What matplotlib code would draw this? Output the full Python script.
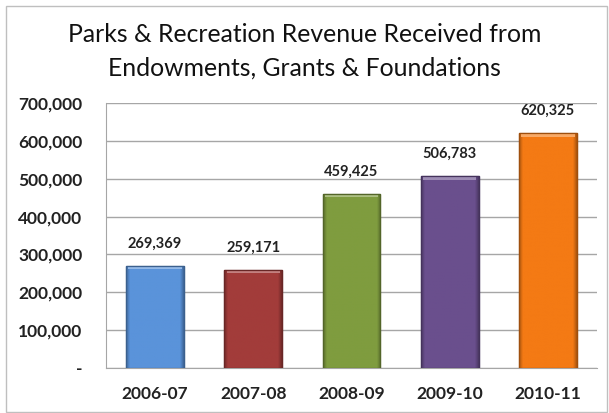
import numpy as np
import matplotlib as mpl
import matplotlib.pyplot as plt
from matplotlib.patches import Rectangle
from matplotlib.colors import to_rgb

years = ['2006-07', '2007-08', '2008-09', '2009-10', '2010-11']
revenue = [269369, 259171, 459425, 506783, 620325]
colors = ['#5A93DA', '#A23C3A', '#7F9C3F', '#6A4F8D', '#F47A14']
yticks = [0, 100000, 200000, 300000, 400000, 500000, 600000, 700000]

mpl.rcParams['font.family'] = ['Lato', 'DejaVu Sans']

dpi = 100
fig = plt.figure(dpi=dpi, figsize=(609 / dpi, 413 / dpi))
ax = fig.add_axes([106 / 609, 1 - 368 / 413, 491 / 609, 265 / 413])

xs = np.arange(len(years))
bars = ax.bar(xs, revenue, width=0.59, color=colors, zorder=3)

# flat fill with a soft bevel: darker sides, lighter strip along the top
prof = np.ones(60)
prof[:4] = np.linspace(0.72, 0.95, 4)
prof[-4:] = np.linspace(0.95, 0.72, 4)
for b, c in zip(bars, colors):
    base = np.array(to_rgb(c))
    b.set_edgecolor(base * 0.65)
    b.set_linewidth(0.9)
    x0, w, h = b.get_x(), b.get_width(), b.get_height()
    img = np.clip(base[None, None, :] * prof[None, :, None], 0, 1)
    im = ax.imshow(img, extent=(x0, x0 + w, 0, h), aspect='auto', zorder=3.5,
                   interpolation='bilinear')
    im.set_clip_path(b)
    top = min(h, 9000)
    hl = np.clip(base + (1 - base) * 0.35, 0, 1)
    ax.add_patch(Rectangle((x0 + w * 0.04, h - top), w * 0.92, top,
                           facecolor=hl, edgecolor='none', zorder=3.6))
    ax.add_patch(Rectangle((x0, 0), w, h, fill=False,
                           edgecolor=base * 0.65, linewidth=0.9, zorder=3.7))
    ax.text(x0 + w / 2, h + 40000, f'{h:,.0f}', ha='center', va='bottom',
            fontsize=10.5, fontweight='bold', color='#222222', zorder=4)

ax.set_xlim(-0.5, len(years) - 0.5)
ax.set_ylim(0, 700000)
ax.set_xticks(xs)
ax.set_xticklabels(years, fontsize=12.5, fontweight='bold')
ax.set_yticks(yticks)
ax.set_yticklabels(['-'] + [f'{v:,}' for v in yticks[1:]], fontsize=12.5, fontweight='bold')
ax.tick_params(axis='both', length=0, colors='#222222')
ax.tick_params(axis='y', pad=17)
ax.tick_params(axis='x', pad=13)
ax.grid(axis='y', color='#A6A6A6', linewidth=1.0, zorder=0)
for s in ['top', 'right']:
    ax.spines[s].set_visible(False)
for s in ['left', 'bottom']:
    ax.spines[s].set_color('#A6A6A6')

fig.text(0.5, 1 - 35 / 413, 'Parks & Recreation Revenue Received from',
         ha='center', va='center', fontsize=17.8, color='#111111')
fig.text(0.5, 1 - 68 / 413, 'Endowments, Grants & Foundations',
         ha='center', va='center', fontsize=17.8, color='#111111')

fig.patches.append(Rectangle((6 / 609, 1 / 413), 601 / 609, 406 / 413,
                             transform=fig.transFigure, fill=False,
                             edgecolor='#BFBFBF', linewidth=1.0))

fig.savefig('out.png', dpi=dpi)
